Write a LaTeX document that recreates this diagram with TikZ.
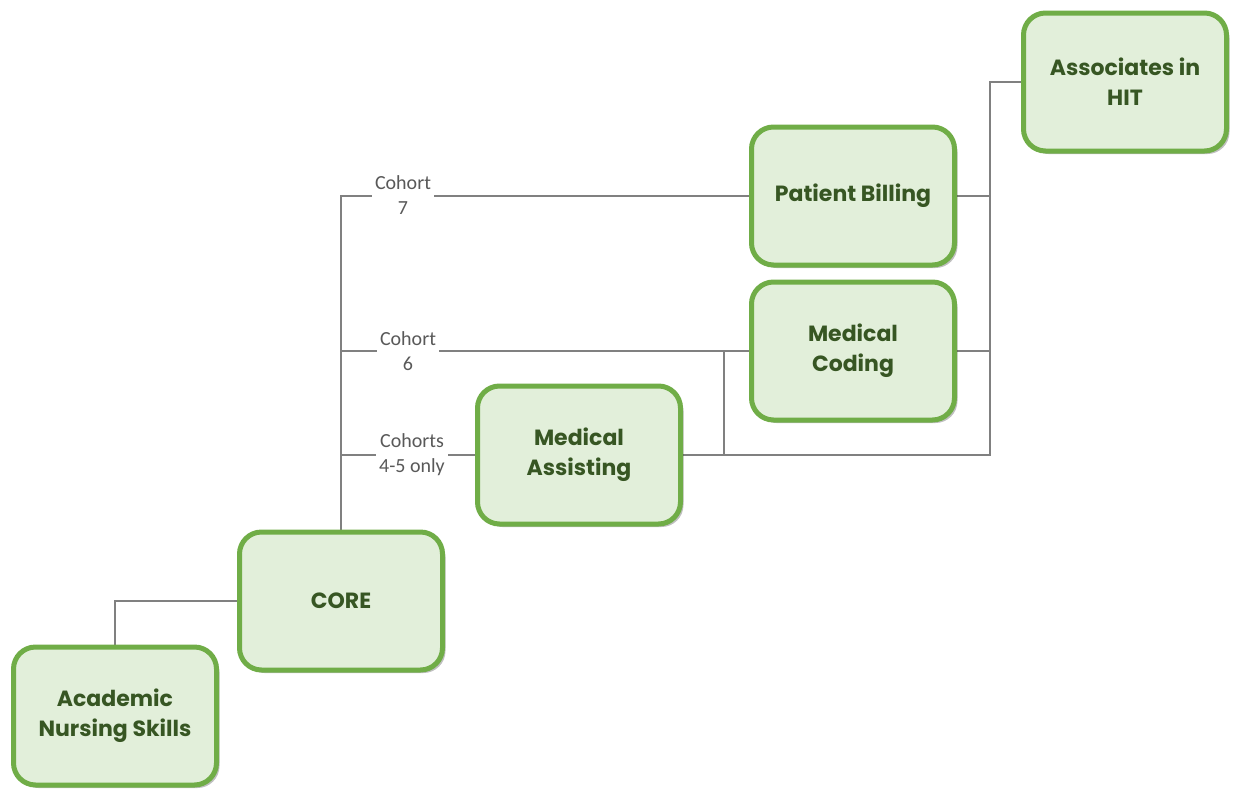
\documentclass[tikz,border=0pt]{standalone}
\usepackage{fontspec}
\setmainfont{Poppins}
\newfontfamily\lblfont{Carlito}
\usetikzlibrary{shadows,backgrounds}
\definecolor{boxfill}{HTML}{E2EFDA}
\definecolor{boxline}{HTML}{70AD47}
\definecolor{boxtext}{HTML}{375623}
\definecolor{conn}{HTML}{808080}
\definecolor{lbltext}{HTML}{595959}
\tikzset{
  stagebox/.style={draw=boxline, line width=2.5pt, fill=boxfill, rounded corners=11pt,
    minimum width=101.5pt, minimum height=69pt, align=center, text=boxtext,
    font=\fontsize{11}{15}\selectfont\bfseries,
    drop shadow={shadow xshift=1.5pt, shadow yshift=-1.5pt, fill=black, opacity=0.25}},
  link/.style={draw=conn, line width=1pt},
  cohort/.style={fill=white, text=lbltext, align=center, inner sep=1.5pt,
    font=\lblfont\fontsize{10}{12.5}\selectfont}
}
\begin{document}
\begin{tikzpicture}[x=0.5pt,y=-0.5pt]
\useasboundingbox (0,0) rectangle (1239,789);
\node[stagebox] (hit) at (1125,82) {Associates in\\HIT};
\node[stagebox] (pb) at (853,196) {Patient Billing};
\node[stagebox] (mc) at (853,351) {Medical\\Coding};
\node[stagebox] (ma) at (579,455) {Medical\\Assisting};
\node[stagebox] (core) at (341,601) {CORE};
\node[stagebox] (ans) at (115,716) {Academic\\Nursing Skills};
\coordinate (bus) at (990,0);
\coordinate (j) at (724,0);
\begin{pgfonlayer}{background}
\draw[link] (ans.north) |- (core.west);
\draw[link] (core.north) |- (pb.west);
\draw[link] (core.north |- mc.west) -- (mc.west);
\draw[link] (core.north |- ma.west) -- (ma.west);
\draw[link] (ma.east) -- (ma.east -| bus) |- (hit.west);
\draw[link] (pb.east) -- (pb.east -| bus);
\draw[link] (mc.east) -- (mc.east -| bus);
\draw[link] (mc.west -| j) -- (ma.east -| j);
\end{pgfonlayer}
\node[cohort] (l7) at (403,195) {Cohort\\7};
\node[cohort] (l6) at (408,351) {Cohort\\6};
\node[cohort] (l45) at (412,455) {Cohorts\\4-5 only};
\end{tikzpicture}
\end{document}
